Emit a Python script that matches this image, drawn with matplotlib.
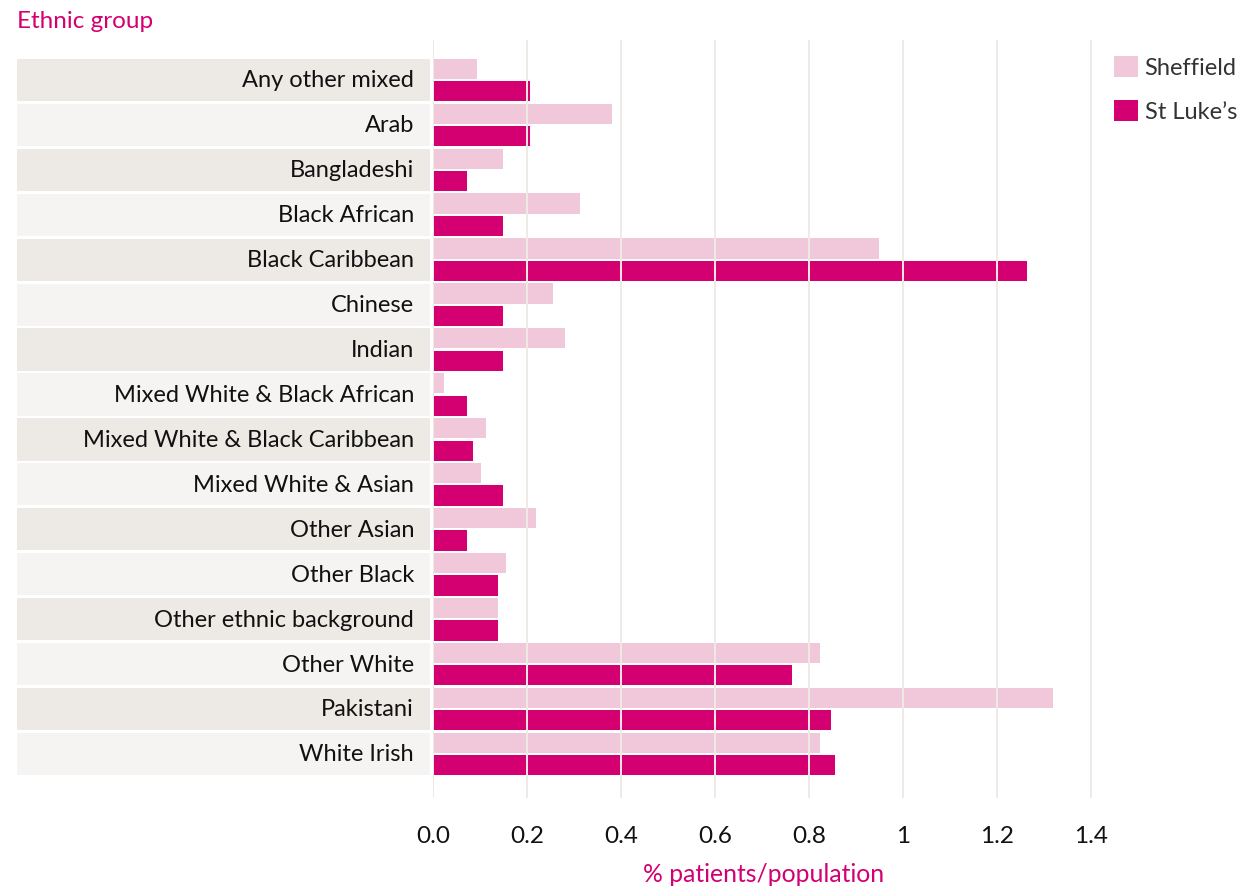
import matplotlib.pyplot as plt
from matplotlib.patches import Rectangle
from matplotlib.transforms import blended_transform_factory

plt.rcParams['font.family'] = ['Lato', 'DejaVu Sans']

groups = ['Any other mixed', 'Arab', 'Bangladeshi', 'Black African', 'Black Caribbean',
          'Chinese', 'Indian', 'Mixed White & Black African', 'Mixed White & Black Caribbean',
          'Mixed White & Asian', 'Other Asian', 'Other Black', 'Other ethnic background',
          'Other White', 'Pakistani', 'White Irish']
sheffield = [0.094, 0.381, 0.149, 0.313, 0.949, 0.255, 0.281, 0.023, 0.113,
             0.102, 0.219, 0.155, 0.138, 0.823, 1.319, 0.823]
st_lukes = [0.206, 0.206, 0.072, 0.149, 1.264, 0.149, 0.149, 0.072, 0.085,
            0.149, 0.072, 0.138, 0.138, 0.764, 0.847, 0.855]
ticks = [0, 0.2, 0.4, 0.6, 0.8, 1.0, 1.2, 1.4]
tick_labels = ['0.0', '0.2', '0.4', '0.6', '0.8', '1', '1.2', '1.4']

pink = '#f0c8da'
magenta = '#d40072'
W, H = 1242, 891

fig = plt.figure(figsize=(12.42, 8.91), dpi=100)
ax = fig.add_axes([433 / W, 1 - 798 / H, (1095 - 433) / W, (798 - 40) / H])

ypos = list(range(len(groups)))
ax.barh([y - 0.25 for y in ypos], sheffield, height=0.45, color=pink, label='Sheffield', zorder=1)
ax.barh([y + 0.25 for y in ypos], st_lukes, height=0.45, color=magenta, label='St Luke\u2019s', zorder=1)

ax.set_xlim(0, (1095 - 433) / 470)
ax.set_ylim(15.98, -0.89)
ax.set_xticks(ticks)
ax.set_xticklabels(tick_labels)
ax.set_yticks([])
for t in ticks:
    ax.axvline(t, color='#eeeae6', lw=1.4, zorder=3)
for s in ax.spines.values():
    s.set_visible(False)
ax.tick_params(axis='x', length=0, pad=20, labelsize=17.5, labelcolor='#111111')

# label boxes on the left
trans = blended_transform_factory(fig.transFigure, ax.transData)
for i, g in enumerate(groups):
    col = '#ede9e5' if i % 2 == 0 else '#f5f4f2'
    ax.add_patch(Rectangle((17 / W, i - 0.47), (430 - 17) / W, 0.94, transform=trans,
                           facecolor=col, edgecolor='none', clip_on=False))
    ax.text(414 / W, i + 0.02, g, transform=trans, ha='right', va='center',
            fontsize=17, color='#111111')

ax.set_xlabel('% patients/population', color=magenta, fontsize=17.8, labelpad=12)
fig.text(17 / W, 1 - 22 / H, 'Ethnic group', color=magenta, fontsize=17.5, va='center', ha='left')

fig.legend(loc='upper left', bbox_to_anchor=(1114 / W, 1 - 56 / H), frameon=False,
           borderpad=0, borderaxespad=0,
           fontsize=17, handlelength=1.0, handleheight=1.0, handletextpad=0.3,
           labelspacing=0.9, labelcolor='#333333')

fig.savefig('out.png', dpi=100)
